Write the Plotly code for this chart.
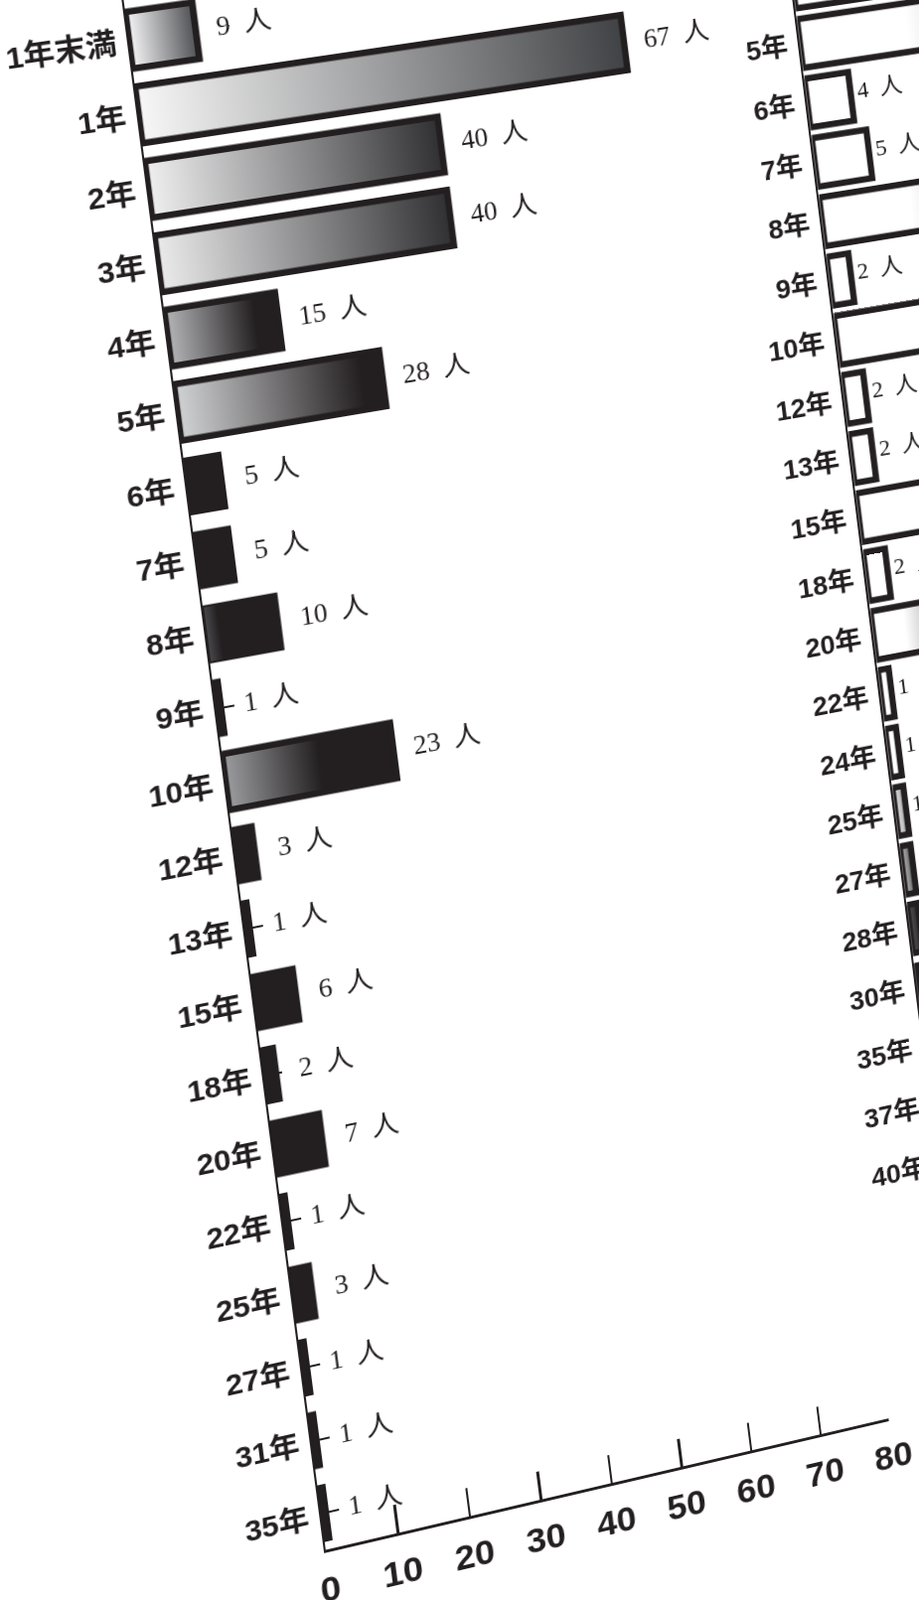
import numpy as np
import plotly.graph_objects as go

# ---------------- data ----------------
left_categories = ["1年末満", "1年", "2年", "3年", "4年", "5年", "6年", "7年", "8年", "9年", "10年",
                   "12年", "13年", "15年", "18年", "20年", "22年", "25年", "27年", "31年", "35年"]
left_values = [9, 67, 40, 40, 15, 28, 5, 5, 10, 1, 23, 3, 1, 6, 2, 7, 1, 3, 1, 1, 1]

right_categories = ["4年", "5年", "6年", "7年", "8年", "9年", "10年", "12年", "13年", "15年", "18年",
                    "20年", "22年", "24年", "25年", "27年", "28年", "30年", "35年", "37年", "40年"]
right_values = [30, 30, 4, 5, 25, 2, 25, 2, 2, 22, 2, 9, 1, 1, 1, 1, 1, 1, 1, 1, 1]

value_ticks = [0, 10, 20, 30, 40, 50, 60, 70, 80]
unit_label = "人"

# ---------------- styles ----------------
INK = "#231f20"
OUT = 6.5
WHITE_BAR = ("#ffffff", "#ffffff", 1.0, OUT)
WIDE_BAR = ("#ffffff", "#5a5a5a", 0.32, OUT)   # white, turning grey towards the far end
# (left colour, right colour, fraction where the plain part ends / right colour reached, outline width)
left_style = [
    ("#f6f6f7", "#4b4c50", 1.0, OUT), ("#f7f7f7", "#3d3e41", 1.0, OUT), ("#efeff0", "#2c2c2e", 1.0, OUT),
    ("#ebebec", "#2c2c2e", 1.0, OUT), ("#b5b6b9", INK, 0.78, OUT), ("#d2d3d5", INK, 0.88, OUT),
    None, None, ("#4a4a4d", INK, 0.18, 2), None, ("#9c9da0", INK, 0.55, OUT),
    None, None, None, None, None, None, None, None, None, None,
]
right_style = [
    WIDE_BAR, WIDE_BAR, WHITE_BAR, WHITE_BAR, WIDE_BAR, WHITE_BAR, WIDE_BAR, WHITE_BAR, WHITE_BAR,
    WIDE_BAR, WHITE_BAR, WIDE_BAR, WHITE_BAR, WHITE_BAR,
    ("#eeeeee", "#9a9a9a", 1.0, OUT), ("#c4c4c4", "#555555", 1.0, OUT), ("#5a5a5a", INK, 1.0, OUT),
    None, None, None, None,
]

SERIF = "Liberation Serif, Noto Sans CJK JP, serif"
SANS = "Liberation Sans, Noto Sans CJK JP, sans-serif"

# ---------------- untransformed layout ----------------
W, H = 1500, 1800
K = 7.4      # px per value unit (left chart)
S = 74.5     # px per category step (left chart)
UL, VT = 150, 60
L_TOP, L_BOT = -0.9, 20.49


def u_left(val):
    return UL + val * K


def v_left(idx):
    return VT + (idx - L_TOP) * S


# perspective of the photographed page: 4 anchor points -> homography
src = [(u_left(0), v_left(0)), (u_left(left_values[1]), v_left(1)),
       (u_left(0), v_left(L_BOT)), (u_left(80), v_left(L_BOT))]
dst = [(122.5, 41.7), (631.0, 42.5), (320.7, 1561.7), (899.0, 1426.6)]
A, b = [], []
for (x, y), (X, Y) in zip(src, dst):
    A.append([x, y, 1, 0, 0, 0, -X * x, -X * y]); b.append(X)
    A.append([0, 0, 0, x, y, 1, -Y * x, -Y * y]); b.append(Y)
h = np.linalg.solve(np.array(A, float), np.array(b, float))
Hm = np.array([[h[0], h[1], h[2]], [h[3], h[4], h[5]], [h[6], h[7], 1.0]])
Hinv = np.linalg.inv(Hm)


def unwarp(X, Y):
    p = Hinv @ np.array([X, Y, 1.0])
    return p[0] / p[2], p[1] / p[2]


# right chart placement from screen anchors
ua, va = unwarp(818, 103)   # 6年 bar, value 0 (index 2)
ub, vb = unwarp(842, 282)   # 9年 bar, value 0 (index 5)
uc, vc = unwarp(863, 97)    # 6年 bar end (value 4)
S_R = (vb - va) / 3.0
U0_R = (ua + ub) / 2.0
K_R = (uc - ua) / 4.0
R_BOT = 20.5
R_TOP = max(-1.0, 2 - (va - 5) / S_R)
R_MAX = 35
v_top_R = va + (R_TOP - 2) * S_R
v_bot_R = va + (R_BOT - 2) * S_R

fig = go.Figure()


def add_bars(cats, vals, styles, half, xa, ya, lab_dx, lab_dy, lab_size):
    for i, (v, st) in enumerate(zip(vals, styles)):
        xs = [0, v, v, 0, 0]
        ys = [i - half, i - half, i + half, i + half, i - half]
        tr = dict(x=xs, y=ys, mode="lines", fill="toself", xaxis=xa, yaxis=ya,
                  hoverinfo="skip", showlegend=False, cliponaxis=False)
        if st is None:
            tr.update(fillcolor=INK, line=dict(color=INK, width=1.5))
        else:
            c0, c1, f, lw = st
            if c0 == c1:
                tr.update(fillcolor=c0, line=dict(color=INK, width=lw))
            else:
                if st is WIDE_BAR:
                    cs = [[0, c0], [f, c0], [1, c1]]
                else:
                    cs = [[0, c0], [1, c1]] if f >= 1 else [[0, c0], [f, c1], [1, c1]]
                tr.update(line=dict(color=INK, width=lw),
                          fillgradient=dict(type="horizontal", colorscale=cs, start=0, stop=v))
        fig.add_trace(go.Scatter(**tr))
    fig.add_trace(go.Scatter(
        x=[v + lab_dx for v in vals], y=[i + lab_dy for i in range(len(vals))],
        text=[f"{v}\u2002{unit_label}" for v in vals], mode="text",
        textposition="middle right", xaxis=xa, yaxis=ya, cliponaxis=False,
        textfont=dict(family=SERIF, size=lab_size, color=INK),
        hoverinfo="skip", showlegend=False))


add_bars(left_categories, left_values, left_style, 0.38, "x", "y", 2.8, 0.02, 27)
add_bars(right_categories, right_values, right_style, 0.41, "x2", "y2", 0.6, -0.05, 24)

fig.update_layout(
    width=W, height=H, margin=dict(l=0, r=0, t=0, b=0),
    paper_bgcolor="white", plot_bgcolor="white", showlegend=False,
    xaxis=dict(domain=[UL / W, (UL + 80 * K) / W], range=[0, 80], anchor="y",
               tickvals=value_ticks, ticks="inside", ticklen=29, tickwidth=2.2, tickcolor=INK,
               showline=True, linewidth=3, linecolor=INK, showgrid=False, zeroline=False,
               tickfont=dict(family=SANS, size=36, color=INK, weight="bold"),
               ticklabelstandoff=6),
    yaxis=dict(domain=[1 - v_left(L_BOT) / H, 1 - VT / H], range=[L_BOT, L_TOP], anchor="x",
               tickvals=list(range(len(left_categories))), ticktext=left_categories,
               ticks="inside", ticklen=18, tickwidth=2, tickcolor=INK, layer="below traces",
               showline=True, linewidth=2.2, linecolor=INK, showgrid=False, zeroline=False,
               tickfont=dict(family=SANS, size=30, color=INK, weight="bold"),
               ticklabelstandoff=4),
    xaxis2=dict(domain=[U0_R / W, min(1.0, (U0_R + R_MAX * K_R) / W)], range=[0, R_MAX], anchor="y2",
                showline=True, linewidth=3, linecolor=INK, showgrid=False, zeroline=False,
                showticklabels=False, ticks=""),
    yaxis2=dict(domain=[1 - v_bot_R / H, 1 - v_top_R / H], range=[R_BOT, R_TOP], anchor="x2",
                tickvals=list(range(len(right_categories))), ticktext=right_categories,
                ticks="", layer="below traces",
                showline=True, linewidth=2.2, linecolor=INK, showgrid=False, zeroline=False,
                tickfont=dict(family=SANS, size=28, color=INK, weight="bold"),
                ticklabelstandoff=5),
)

m = Hm
css = "matrix3d({},{},0,{},{},{},0,{},0,0,1,0,{},{},0,{})".format(
    m[0, 0], m[1, 0], m[2, 0], m[0, 1], m[1, 1], m[2, 1], m[0, 2], m[1, 2], m[2, 2])

post = ("var gd=document.getElementById('{plot_id}');"
        "document.documentElement.style.overflow='hidden';"
        "document.body.style.margin='0';document.body.style.overflow='hidden';"
        "gd.style.position='absolute';gd.style.left='0px';gd.style.top='0px';"
        "gd.style.transformOrigin='0 0';gd.style.transform='" + css + "';")

fig.write_html("out.html", div_id="chart", post_script=post,
               config={"displayModeBar": False, "staticPlot": True})
